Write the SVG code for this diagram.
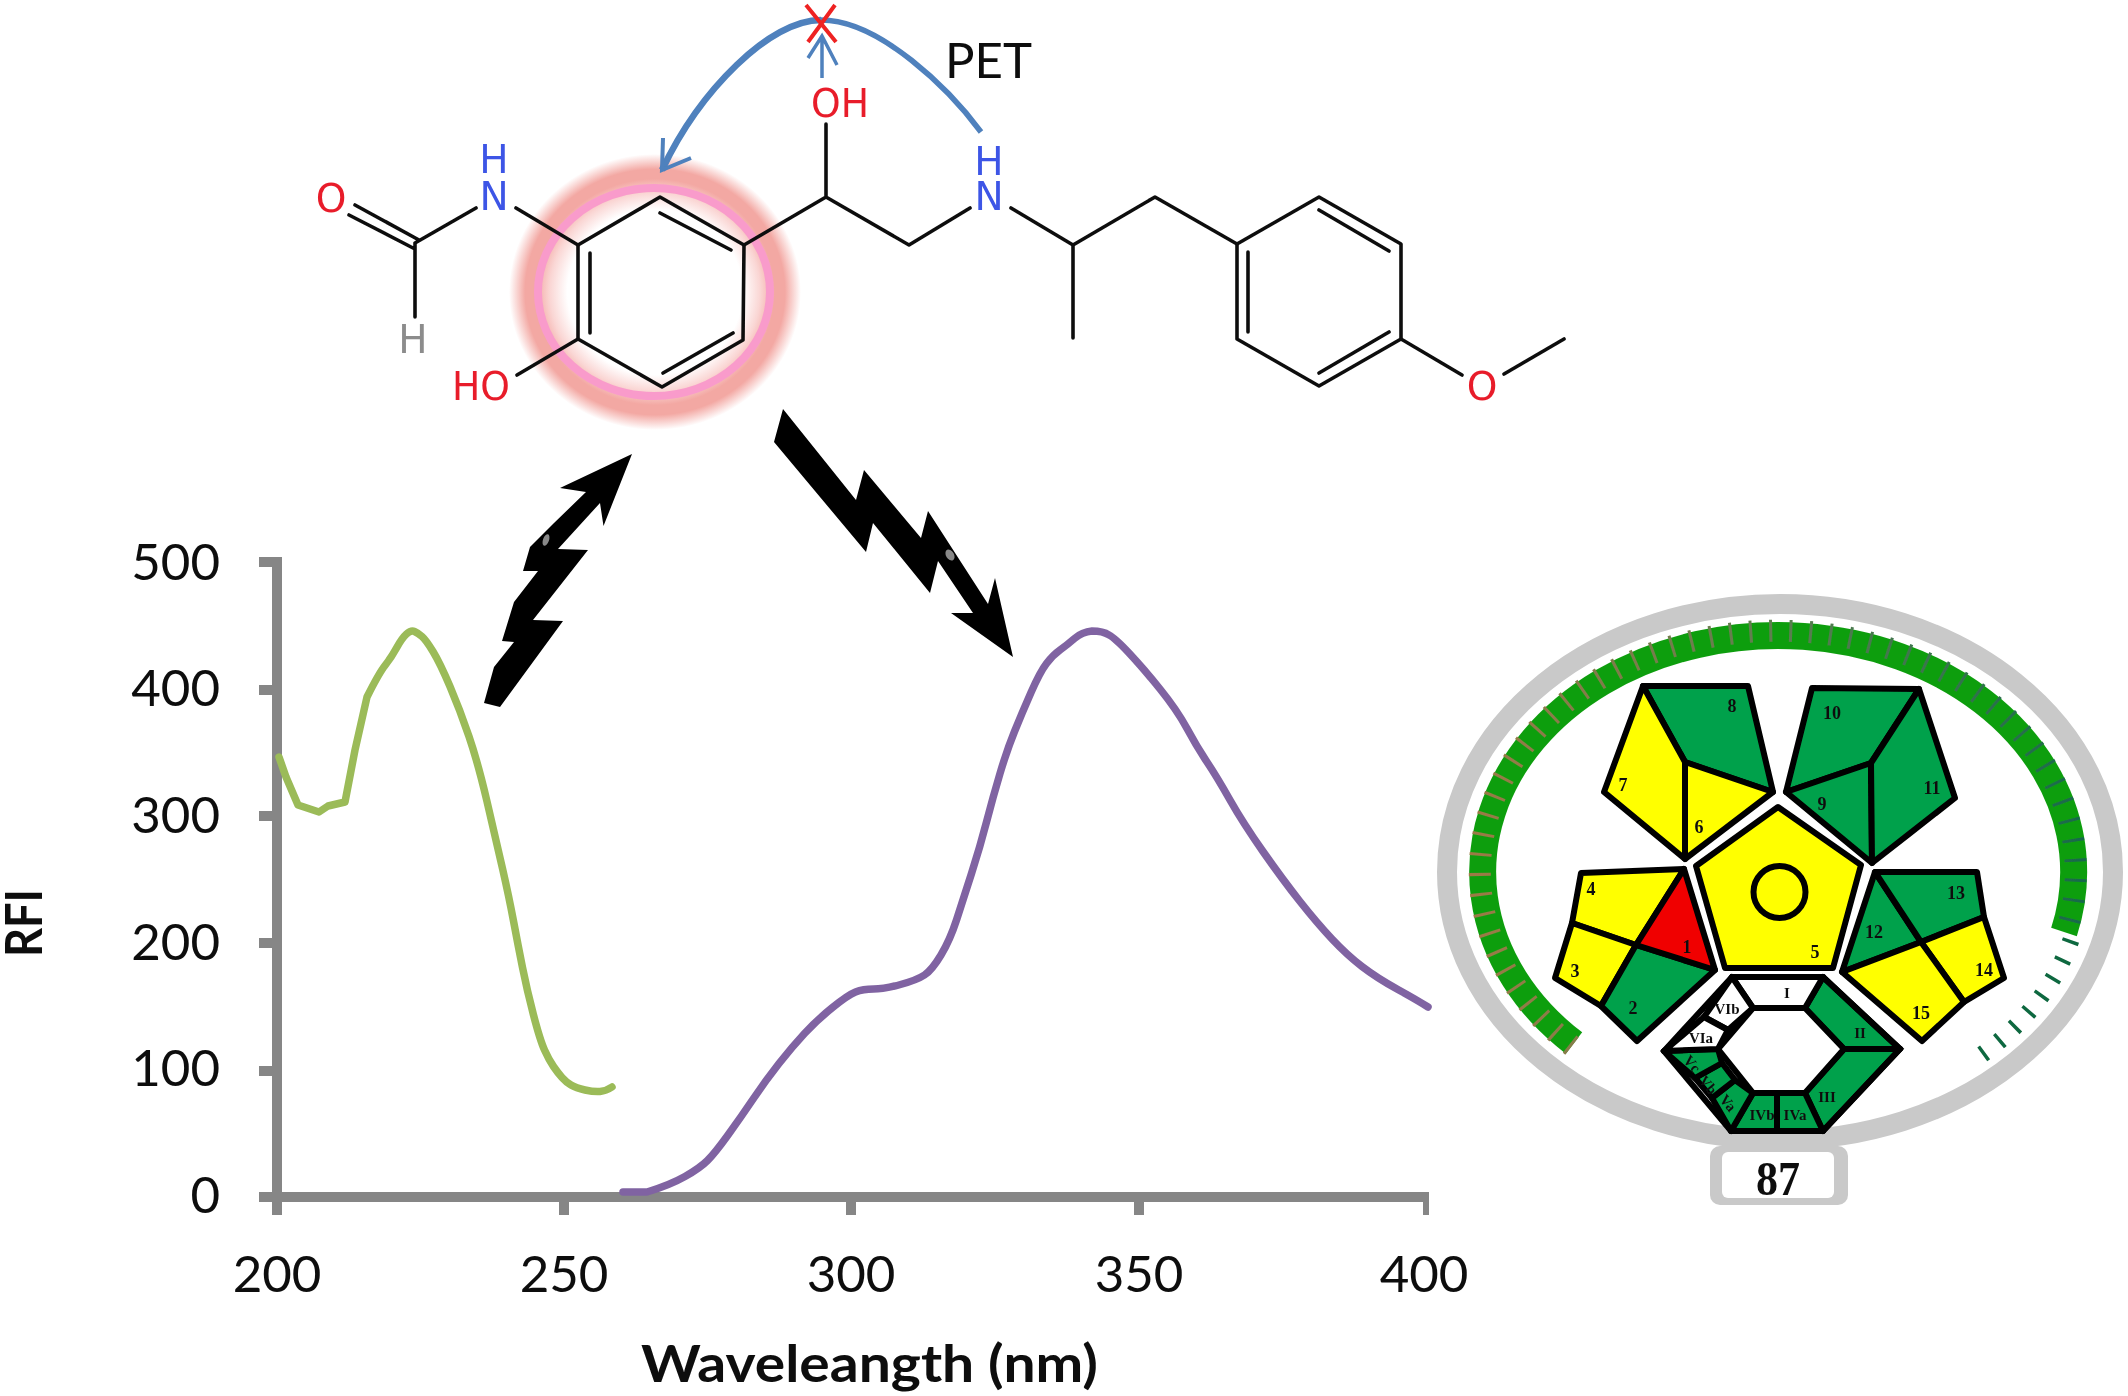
<svg xmlns="http://www.w3.org/2000/svg" width="2128" height="1396" viewBox="0 0 2128 1396">
<defs>
<filter id="soft" filterUnits="userSpaceOnUse" x="0" y="0" width="2128" height="1396"><feGaussianBlur stdDeviation="0.7"/></filter>
<radialGradient id="glow" cx="655" cy="292" r="1" gradientUnits="userSpaceOnUse" gradientTransform="translate(655 292) scale(146 138) translate(-655 -292)">
<stop offset="0.6" stop-color="#fff"/><stop offset="0.72" stop-color="#fad6d4"/><stop offset="0.82" stop-color="#f3a8a3"/><stop offset="0.89" stop-color="#f3a8a3"/><stop offset="1" stop-color="#fff"/>
</radialGradient>
<linearGradient id="tick" gradientUnits="userSpaceOnUse" x1="1470" y1="0" x2="2090" y2="0">
<stop offset="0" stop-color="#9c7a45"/><stop offset="0.5" stop-color="#5c7f50"/><stop offset="1" stop-color="#166a4a"/>
</linearGradient>
<style>
.b{stroke:#111;stroke-width:3.6;fill:none;stroke-linecap:round;stroke-linejoin:round}
.m{font-family:"DejaVu Sans",sans-serif;font-size:39px;text-anchor:middle}
.red{fill:#e81f2b}.blue{fill:#3d55e6}.gray{fill:#8c8c8c}
.ax{font-family:Lato,"Liberation Sans",sans-serif;font-size:51px;fill:#0a0a0a}
.e{text-anchor:end}.c{text-anchor:middle}
.axl{font-family:Lato,"Liberation Sans",sans-serif;font-weight:700;font-size:51px;fill:#0a0a0a}
.g{stroke:#868686;stroke-width:10;fill:none}
.cv{fill:none;stroke-width:7.5;stroke-linejoin:round;stroke-linecap:round}
.p{stroke:#000;stroke-width:6;stroke-linejoin:round}
.o{stroke:#000;stroke-width:6;stroke-linejoin:miter;fill:none}
.gr{fill:#00a14b}.ye{fill:#ffff00}.rd{fill:#f00000}.wh{fill:#fff}
.n{font-family:"Liberation Serif",serif;font-weight:700;font-size:18px;text-anchor:middle;fill:#111}
.r{font-size:15px}
</style>
</defs>
<rect width="2128" height="1396" fill="#fff"/>
<g filter="url(#soft)">
<g id="molecule">
<ellipse cx="655" cy="292" rx="146" ry="138" fill="url(#glow)"/>
<ellipse cx="654" cy="292" rx="116" ry="104" fill="none" stroke="#f99bcb" stroke-width="8"/>
<g id="bonds">
<path class="b" d="M660,197L744,245L743,340L662,387L578,339L578,245Z"/>
<path class="b" d="M660,213L731,250M590,253V333M663,373L733,333"/>
<path class="b" d="M744,245L826,197L909,245L970,208M826,197V124M1011,208L1073,245V338M1073,245L1155,197L1237,244"/>
<path class="b" d="M578,245L516,208M476,208L415,243M349,215L413,248M355,205L419,240M415,243V317M578,339L517,375"/>
<path class="b" d="M1237,244L1319,197L1401,244V339L1319,386L1237,339Z"/>
<path class="b" d="M1248,252V332M1319,210L1389,251M1319,373L1389,332M1401,339L1462,375M1504,374L1564,339"/>
</g>
<text class="m red" x="331" y="212">O</text>
<text class="m blue" x="494" y="173">H</text>
<text class="m blue" x="494" y="210">N</text>
<text class="m gray" x="413" y="353">H</text>
<text class="m red" x="481" y="400" textLength="58" lengthAdjust="spacingAndGlyphs">HO</text>
<text class="m red" x="840" y="117" textLength="58" lengthAdjust="spacingAndGlyphs">OH</text>
<text class="m blue" x="989" y="175">H</text>
<text class="m blue" x="989" y="210">N</text>
<text class="m red" x="1482" y="400">O</text>
</g>
<g id="pet">
<path d="M981,132C950,90 880,20 821,20" fill="none" stroke="#4f81bd" stroke-width="5.5"/>
<path d="M821,20C770,20 700,90 662,170" fill="none" stroke="#4f81bd" stroke-width="6.5"/>
<path d="M663,138L662,170L691,158" fill="none" stroke="#4f81bd" stroke-width="4"/>
<path d="M822,78V36M808,58L822,36L837,65" fill="none" stroke="#4f81bd" stroke-width="3.5"/>
<path d="M806,5L836,42M835,5L808,42" fill="none" stroke="#ee2222" stroke-width="4"/>
<text x="945" y="78" font-family="Lato,'Liberation Sans',sans-serif" font-size="49" fill="#111" textLength="87" lengthAdjust="spacingAndGlyphs">PET</text>
</g>
<g id="bolts">
<polygon fill="#000" points="484,703 500,707 563,621 533,620 588,550 558,549 600,503 603.5,526 632,454 560,488 586,492 554,523 530,547 523,571 538,571 514,602 502,641 514,642 494,667"/>
<polygon fill="#000" points="783,409 774,442 866,552 873,523 930,593 938,561 973,613 951,613 1013,657 995,578 988,604 928,511 921,538 864,470 856,500"/>
<ellipse cx="546" cy="540" rx="3" ry="6" fill="#888" transform="rotate(20 546 540)"/>
<ellipse cx="950" cy="555" rx="4" ry="6" fill="#888" transform="rotate(-30 950 555)"/>
</g>
<g id="chart">
<path class="g" d="M277,557V1215M259,562H282M259,690H277M259,816H277M259,943H277M259,1071H277M259,1197H1429M564,1197V1215M851,1197V1215M1139,1197V1215"/>
<path d="M1426,1192V1215" stroke="#868686" stroke-width="6" fill="none"/>
<path class="cv" stroke="#9bbb59" d="M279,757L286,777L298,805L319,812L328,806L345,802L355,750L367,697Q379,673 385,665.5Q391,658 396.5,648Q402,638 406.5,634Q411,630 414.5,631.5Q418,633 422,636.5Q426,640 433,651.5Q440,663 450,686.5Q460,710 469,736.5Q478,763 487,801.5Q496,840 502.5,868.5Q509,897 513.5,921Q518,945 522.5,967.5Q527,990 533.5,1015Q540,1040 544.5,1050Q549,1060 553.5,1066.5Q558,1073 562,1077.5Q566,1082 571,1085Q576,1088 585,1090Q594,1092 600,1091.5Q606,1091 612,1087"/>
<path class="cv" stroke="#8064a2" d="M623,1192L647,1192Q670,1185 685,1176.5Q700,1168 707.5,1160.5Q715,1153 728,1135Q741,1117 753.5,1098.5Q766,1080 779,1063.5Q792,1047 804.5,1033.5Q817,1020 832.5,1007.5Q848,995 855.5,992Q863,989 873.5,989Q884,989 900.5,984.5Q917,980 924.5,975Q932,970 941,955Q950,940 956.5,920Q963,900 971.5,873.5Q980,847 986.5,822Q993,797 1000,773.5Q1007,750 1014.5,731.5Q1022,713 1031,692.5Q1040,672 1046.5,663.5Q1053,655 1060,650Q1067,645 1074.5,638.5Q1082,632 1092,631Q1103,631 1109,635Q1115,638 1129,653Q1143,668 1160,689Q1177,710 1187,728.5Q1197,747 1207,762Q1217,777 1230,800Q1243,823 1263,851.5Q1283,880 1300,901.5Q1317,923 1332,939Q1347,955 1362,966.5Q1377,978 1397,989Q1417,1000 1428,1007"/>
<text class="ax e" x="220" y="580">500</text>
<text class="ax e" x="220" y="706">400</text>
<text class="ax e" x="220" y="833">300</text>
<text class="ax e" x="220" y="960">200</text>
<text class="ax e" x="220" y="1086">100</text>
<text class="ax e" x="220" y="1213">0</text>
<text class="ax c" x="277" y="1292">200</text>
<text class="ax c" x="564" y="1292">250</text>
<text class="ax c" x="851" y="1292">300</text>
<text class="ax c" x="1139" y="1292">350</text>
<text class="ax c" x="1424" y="1292">400</text>
<text class="axl" x="641" y="1382" textLength="457" lengthAdjust="spacingAndGlyphs">Waveleangth (nm)</text>
<text class="axl" transform="translate(42 957) rotate(-90)" textLength="68" lengthAdjust="spacingAndGlyphs">RFI</text>
</g>
<g id="score">
<ellipse cx="1780" cy="872" rx="333" ry="268" fill="#fff" stroke="#c9c9c9" stroke-width="20"/>
<rect x="1710" y="1146" width="138" height="59" rx="10" fill="#c9c9c9"/>
<rect x="1722" y="1152" width="112" height="46" rx="6" fill="#fff"/>
<text x="1778" y="1195" font-family="'Liberation Serif',serif" font-weight="700" font-size="49" text-anchor="middle" fill="#111" textLength="44" lengthAdjust="spacingAndGlyphs">87</text>
<path d="M1574,1043A295.5,236.5 0 1 1 2064,932" fill="none" stroke="#119e11" stroke-width="27"/>
<path d="M1572,1046A298,241 0 1 1 2066,933" fill="none" stroke="url(#tick)" stroke-width="22" stroke-dasharray="3 17"/>
<path d="M2071,940A299,242 0 0 1 1980,1056" fill="none" stroke="#10683f" stroke-width="17" stroke-dasharray="3.5 17"/>
<g id="top-left">
<polygon class="p gr" points="1643,686 1748,686 1773,792 1685,762"/>
<polygon class="p ye" points="1643,686 1685,762 1685,859 1604,792"/>
<polygon class="p ye" points="1685,762 1773,792 1685,859"/>
<text class="n" x="1732" y="712">8</text><text class="n" x="1623" y="791">7</text><text class="n" x="1699" y="833">6</text>
</g>
<g id="top-right">
<polygon class="p gr" points="1812,688 1919,689 1871,763 1786,792"/>
<polygon class="p gr" points="1786,792 1871,763 1872,863"/>
<polygon class="p gr" points="1919,689 1955,798 1872,863 1871,763"/>
<text class="n" x="1832" y="719">10</text><text class="n" x="1822" y="810">9</text><text class="n" x="1932" y="794">11</text>
</g>
<g id="center">
<polygon class="p ye" points="1778,807 1861,865 1833,968 1725,968 1696,866"/>
<ellipse class="p ye" cx="1779.5" cy="892" rx="26" ry="26"/>
<text class="n" x="1815" y="958">5</text>
</g>
<g id="left">
<polygon class="p ye" points="1581,873 1684,869 1636,945 1572,923"/>
<polygon class="p ye" points="1572,923 1636,945 1601,1006 1555,978"/>
<polygon class="p gr" points="1636,945 1715,970 1637,1041 1601,1006"/>
<polygon class="p rd" points="1684,869 1715,970 1636,945"/>
<text class="n" x="1591" y="895">4</text><text class="n" x="1575" y="977">3</text><text class="n" x="1687" y="953">1</text><text class="n" x="1633" y="1014">2</text>
</g>
<g id="right">
<polygon class="p gr" points="1875,872 1921,942 1842,972"/>
<polygon class="p gr" points="1875,872 1977,872 1984,917 1921,942"/>
<polygon class="p ye" points="1984,917 2004,978 1964,1002 1921,942"/>
<polygon class="p ye" points="1842,972 1921,942 1964,1002 1922,1041"/>
<text class="n" x="1956" y="899">13</text><text class="n" x="1874" y="938">12</text><text class="n" x="1984" y="976">14</text><text class="n" x="1921" y="1019">15</text>
</g>
<g id="hexagon">
<polygon class="p gr" points="1823,977 1900,1049 1844,1049 1805,1008"/>
<polygon class="p gr" points="1900,1049 1823,1131 1805,1093 1844,1049"/>
<polygon class="p gr" points="1823,1131 1777,1131 1777,1093 1805,1093"/>
<polygon class="p gr" points="1777,1131 1731,1131 1753,1093 1777,1093"/>
<polygon class="p gr" points="1731,1131 1712,1098 1735,1080 1753,1093"/>
<polygon class="p gr" points="1712,1098 1695,1078 1722,1063 1735,1080"/>
<polygon class="p gr" points="1695,1078 1664,1051 1718,1049 1722,1063"/>
<polygon class="p wh" points="1732,977 1823,977 1805,1008 1753,1008"/>
<polygon class="p wh" points="1732,977 1753,1008 1728,1030 1704,1017"/>
<polygon class="p wh" points="1704,1017 1728,1030 1718,1049 1664,1051"/>
<polygon class="p wh" points="1753,1008 1805,1008 1844,1049 1805,1093 1753,1093 1718,1049"/>
<polygon class="o" points="1732,977 1823,977 1900,1049 1823,1131 1731,1131 1664,1051"/>
<text class="n r" x="1787" y="998">I</text><text class="n r" x="1860" y="1038">II</text><text class="n r" x="1827" y="1102">III</text>
<text class="n r" x="1795" y="1120">IVa</text><text class="n r" x="1762" y="1120">IVb</text>
<text class="n r" transform="translate(1728 1103) rotate(50)" y="5">Va</text>
<text class="n r" transform="translate(1708 1085) rotate(50)" y="5">Vb</text>
<text class="n r" transform="translate(1692 1064) rotate(50)" y="5">Vc</text>
<text class="n r" x="1701" y="1043">VIa</text><text class="n r" x="1727" y="1014">VIb</text>
</g>
</g>
</g>
</svg>
